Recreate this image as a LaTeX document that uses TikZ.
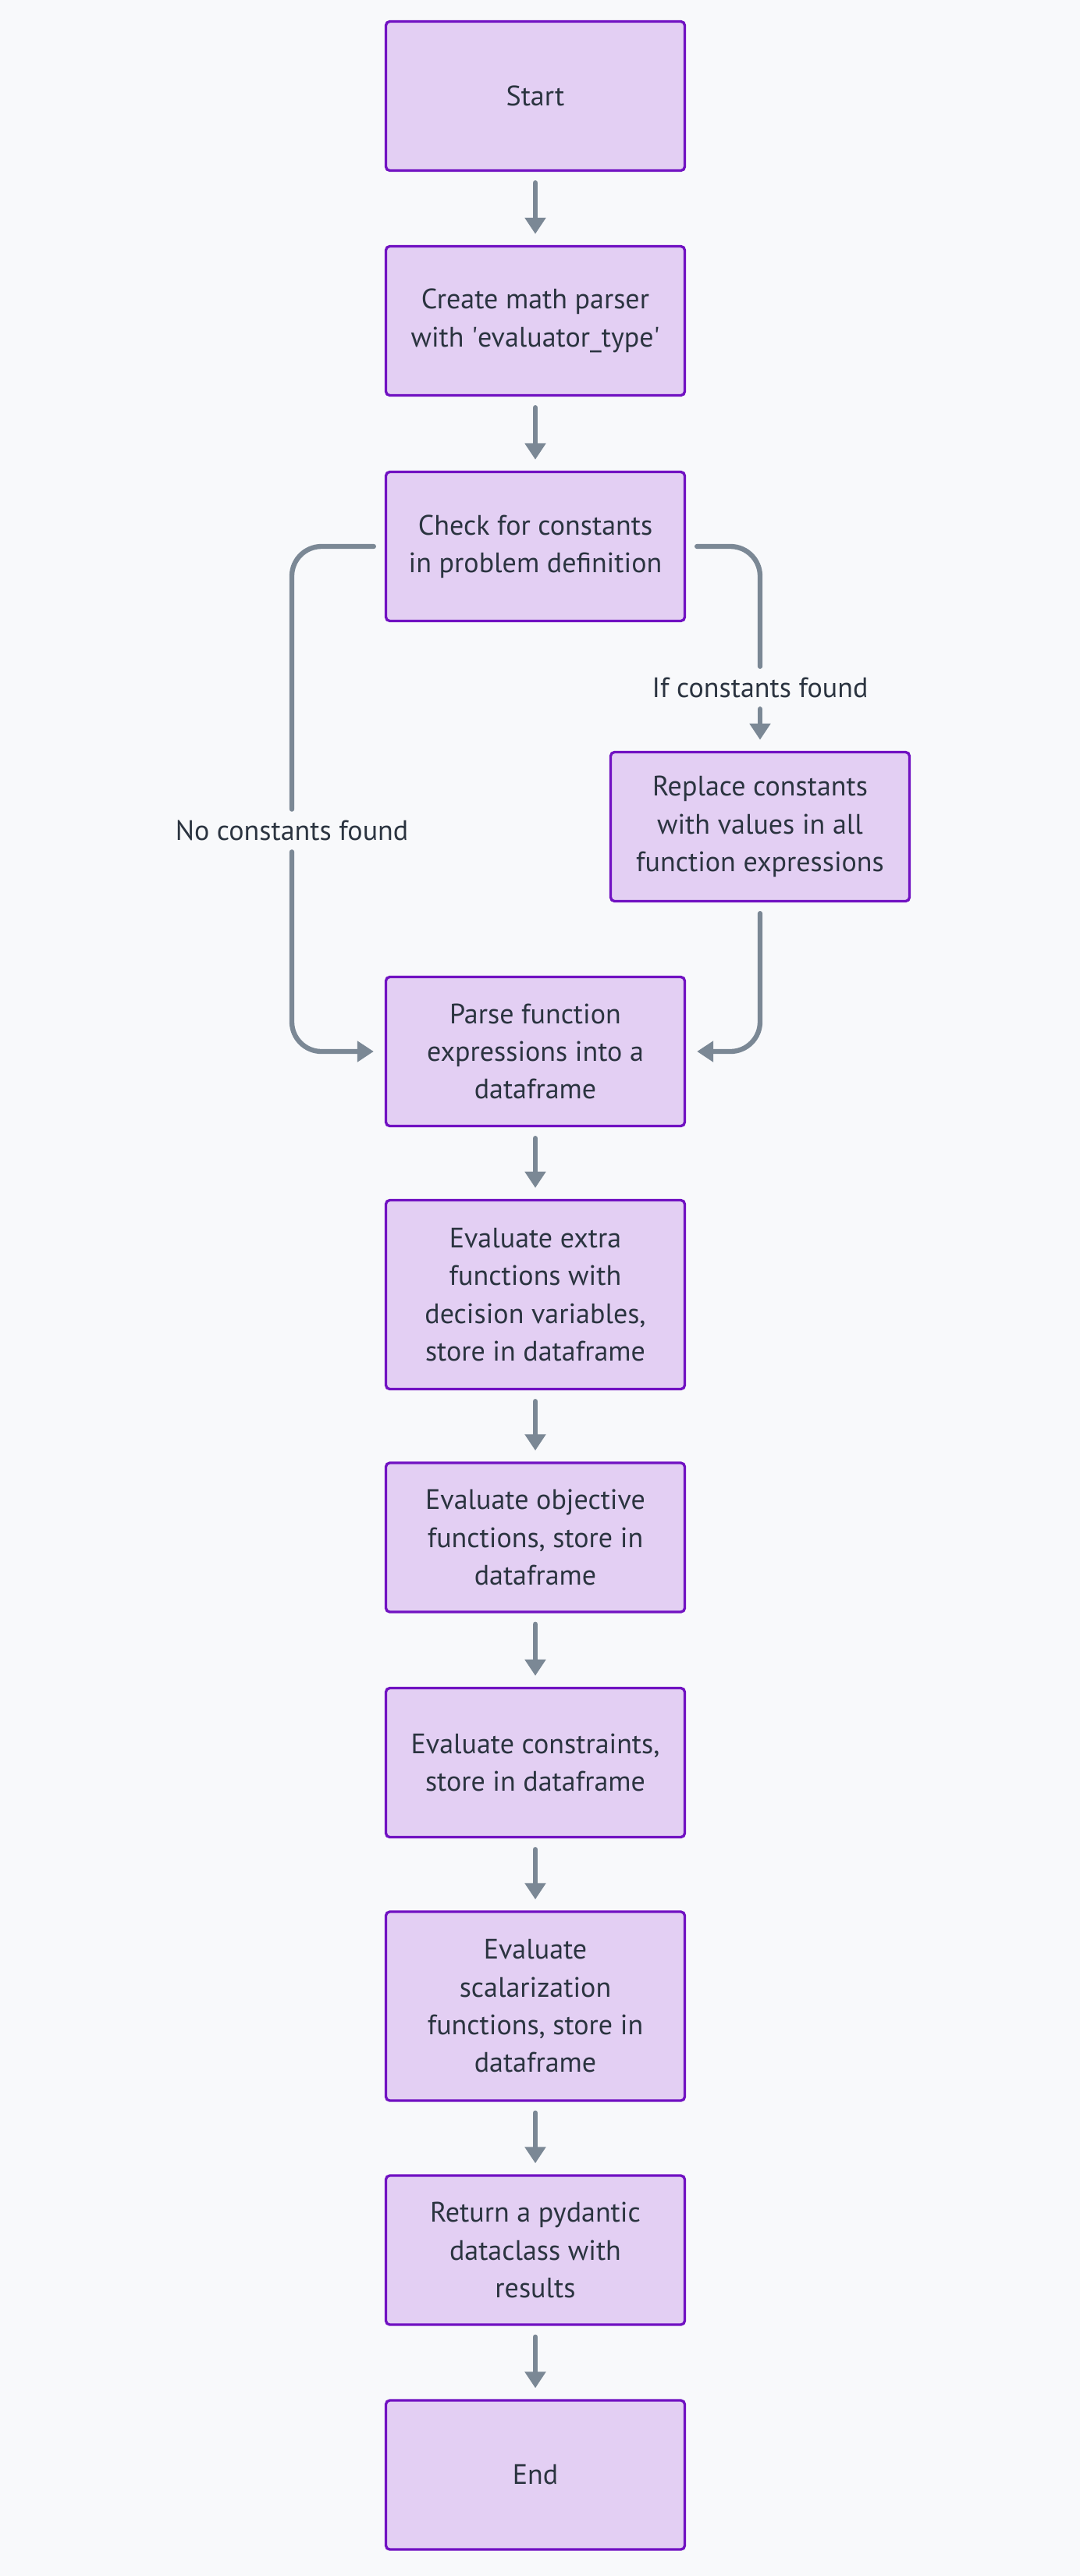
\documentclass[tikz,border=0pt]{standalone}
\usepackage{fontspec}
\setmainfont{PT Sans}
\usepackage{tikz}
\usetikzlibrary{arrows.meta}

\definecolor{bgcol}{HTML}{F8F9FB}
\definecolor{boxfill}{HTML}{E3CFF3}
\definecolor{boxline}{HTML}{7112C2}
\definecolor{flowcol}{HTML}{7B8895}
\definecolor{textcol}{HTML}{2B3440}

\begin{document}
\begin{tikzpicture}[
    box/.style={draw=boxline, fill=boxfill, line width=1.9pt, rounded corners=0.1cm,
        minimum width=7.66cm, minimum height=3.82cm, align=center, text=textcol,
        font=\fontsize{20.5pt}{27.5pt}\selectfont},
    tallbox/.style={box, minimum height=4.84cm},
    lbl/.style={inner sep=0pt, text=textcol, font=\fontsize{20.5pt}{27.5pt}\selectfont},
    flow/.style={draw=flowcol, line width=3.6pt, line cap=round, rounded corners=0.76cm,
        shorten <=0.28cm, shorten >=0.28cm},
    ->/.style={flow, -{Triangle[length=0.42cm, width=0.52cm]}}
]
    % background and page size
    \fill[bgcol] (0,0) rectangle (27.68,-66);
    \useasboundingbox (0,0) rectangle (27.68,-66);

    % 1. Define the nodes
    \node[box] (start) at (13.72,-2.46) {Start};
    \node[box] (parser) at (13.72,-8.22) {Create math parser\\with \textquotesingle evaluator\_type\textquotesingle};
    \node[box] (check) at (13.72,-14.0) {Check for constants\\in problem definition};
    \node[box] (replace) at (19.48,-21.18) {Replace constants\\with values in all\\function expressions};
    \node[box] (parse) at (13.72,-26.94) {Parse function\\expressions into a\\dataframe};
    \node[tallbox] (extra) at (13.72,-33.17) {Evaluate extra\\functions with\\decision variables,\\store in dataframe};
    \node[box] (objective) at (13.72,-39.39) {Evaluate objective\\functions, store in\\dataframe};
    \node[box] (constr) at (13.72,-45.16) {Evaluate constraints,\\store in dataframe};
    \node[tallbox] (scalar) at (13.72,-51.4) {Evaluate\\scalarization\\functions, store in\\dataframe};
    \node[box] (result) at (13.72,-57.65) {Return a pydantic\\dataclass with\\results};
    \node[box] (stop) at (13.72,-63.41) {End};

    % branch labels
    \node[lbl] (noconst) at (7.48,-21.28) {No constants found};
    \node[lbl] (ifconst) at (19.48,-17.62) {If constants found};

    % 2. Draw the arrows

    % main chain
    \draw[->] (start) -- (parser);
    \draw[->] (parser) -- (check);

    % check -> parse (no constants, left side)
    \draw[flow] (check.west) -| (noconst);
    \draw[->] (noconst) |- (parse.west);

    % check -> replace -> parse (right side)
    \draw[flow] (check.east) -| (ifconst);
    \draw[->] (ifconst) -- (replace);
    \draw[->] (replace) |- (parse.east);

    % rest of the chain
    \draw[->] (parse) -- (extra);
    \draw[->] (extra) -- (objective);
    \draw[->] (objective) -- (constr);
    \draw[->] (constr) -- (scalar);
    \draw[->] (scalar) -- (result);
    \draw[->] (result) -- (stop);

\end{tikzpicture}
\end{document}
